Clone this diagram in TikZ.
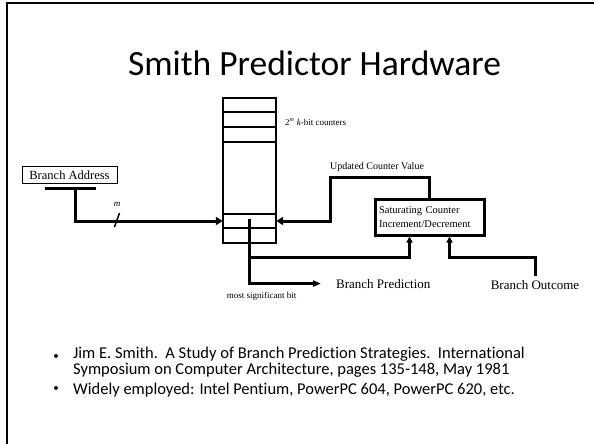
\documentclass[tikz,border=0pt]{standalone}
\usepackage{fontspec}
\setmainfont{Liberation Serif}
\newfontfamily\slidefont[Ligatures=NoCommon]{Carlito}
\usepackage{tikz}
\usetikzlibrary{positioning, arrows.meta, calc}
\tikzset{
  frame/.style  ={draw, line width=2pt},
  slidetitle/.style={font=\slidefont\fontsize{35.5}{40}\selectfont, inner sep=0pt},
  addrbox/.style={draw, line width=1pt, minimum width=95pt, minimum height=17pt,
                  inner sep=1pt, font=\fontsize{12.5}{13}\selectfont},
  tablebox/.style={draw, line width=1.3pt, minimum width=53pt, minimum height=145pt, inner sep=0pt},
  satbox/.style ={draw, line width=3pt, minimum width=109pt, minimum height=36pt,
                  text width=101pt, align=left, inner xsep=4pt, inner ysep=2pt,
                  font=\fontsize{10.5}{14}\selectfont},
  row/.style    ={line width=2.5pt},
  wire/.style   ={line width=3pt},
  flow/.style   ={wire, -{Triangle[length=7pt, width=8pt]}},
  flowup/.style ={wire, -{Triangle[length=6pt, width=6pt]}},
  lbl/.style    ={font=\fontsize{10}{11}\selectfont, inner sep=0pt},
  big/.style    ={font=\fontsize{13}{14}\selectfont, inner sep=0pt},
  bullet/.style ={font=\slidefont\fontsize{16.5}{12.2}\selectfont, align=left, inner sep=0pt},
  dot/.style    ={font=\slidefont\fontsize{11}{12}\selectfont, inner sep=0pt},
}

\begin{document}
\begin{tikzpicture}[x=1pt, y=-1pt]
  \useasboundingbox (0,0) rectangle (594,444);
  \draw[frame] (7,444) -- (7,3) -- (594,3);

  \node[slidetitle, anchor=base] (title) at (314.5,75) {Smith Predictor Hardware};

  % address register and its index bus
  \node[addrbox] (addr) at (69.5,175) {Branch Address};
  \draw[line width=3pt] (45,188) -- (96,188);
  \coordinate (bus) at (75,188);

  % counter table
  \node[tablebox] (tbl) at (249.5,170.5) {};
  \foreach \y in {112,127,142,228}
    \draw[row] (tbl.west |- 0,\y) -- (tbl.east |- 0,\y);
  \draw[line width=1.3pt] (tbl.west |- 0,214) -- (tbl.east |- 0,214);
  \node[minimum width=53pt, minimum height=14pt, inner sep=0pt] (entry) at (249.5,221) {};
  \node[lbl, font=\fontsize{9}{10}\selectfont, anchor=west] (cnt) at (285,122)
    {2\textsuperscript{\textit{m}} \textit{k}-bit counters};

  \draw[flow] (bus) |- (entry.west);
  \node[lbl, font=\itshape\fontsize{9}{10}\selectfont] (mlbl) at (117,204) {m};
  \draw[line width=1.5pt] (114.5,227) -- (119.5,213);

  % update logic
  \node[satbox] (sat) at (429.5,217) {Saturating Counter\\Increment/Decrement};
  \coordinate (upd) at (330,177);
  \node[lbl] (updlbl) at (377,167.5) {Updated Counter Value};
  \draw[flow] (sat.north) |- (upd) |- (entry.east);

  \coordinate (msb) at (249,219);
  \coordinate (tap) at (249,257);
  \node[big, anchor=base west] (pred) at (336,288) {Branch Prediction};
  \node[big, anchor=base] (outc) at (535,289) {Branch Outcome};
  \node[lbl, font=\fontsize{9}{10}\selectfont] (msblbl) at (261.5,296) {most significant bit};

  \draw[wire, -{Triangle[length=8pt, width=6pt]}] (msb) |- ([xshift=-15pt]pred.west);
  \draw[flowup] (tap) -| ([xshift=-20pt]sat.south);
  \draw[flowup] ([yshift=4pt]outc.north) -- (outc.north |- tap) -| ([xshift=20pt]sat.south);

  % references
  \node[dot, anchor=base] (dot1) at (56,359) {•};
  \node[bullet, anchor=base west] (ref1) at (73,374)
    {Jim E. Smith.\ \ A Study of Branch Prediction Strategies.\ \ International\\
     Symposium on Computer Architecture, pages 135-148, May 1981};
  \node[dot, anchor=base] (dot2) at (56,391) {•};
  \node[bullet, anchor=base west] (ref2) at (73,394)
    {Widely employed: Intel Pentium, PowerPC 604, PowerPC 620, etc.};
\end{tikzpicture}
\end{document}
